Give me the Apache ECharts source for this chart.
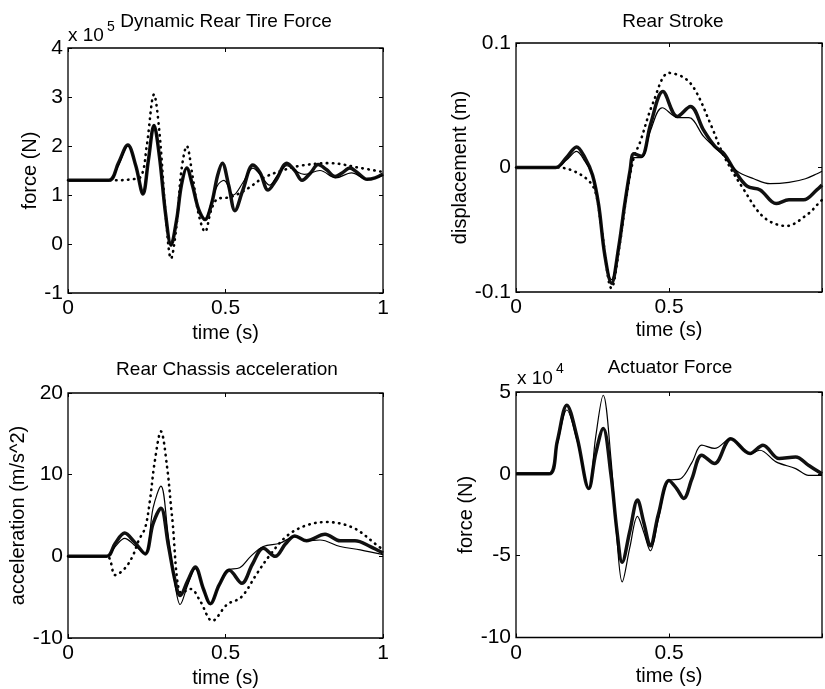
<!DOCTYPE html>
<html>
<head>
<meta charset="utf-8">
<script src="https://cdn.jsdelivr.net/npm/echarts@6/dist/echarts.min.js"></script>
<style>
html,body{margin:0;padding:0;background:#fff;}
#chart{width:825px;height:689px;}
</style>
</head>
<body>
<div id="chart"></div>
<script>
// ---------------- DATA ----------------
// time axis ticks (s)
const timeTicks = [0, 0.5, 1];

// Dynamic Rear Tire Force (x 10^5 N)  [t, value]
const tireTicks = [-1, 0, 1, 2, 3, 4];
const tireThin = [[0,1.3],[0.13,1.3],[0.16,1.6],[0.19,2.0],[0.215,1.6],[0.238,1.02],[0.255,1.7],[0.273,2.42],[0.29,1.8],[0.31,0.6],[0.327,-0.04],[0.345,0.5],[0.36,1.2],[0.377,1.55],[0.395,1.2],[0.415,0.7],[0.435,0.5],[0.455,0.85],[0.475,1.2],[0.495,1.3],[0.525,1.0],[0.555,1.25],[0.587,1.55],[0.612,1.4],[0.64,1.2],[0.665,1.4],[0.695,1.6],[0.72,1.5],[0.75,1.42],[0.8,1.5],[0.85,1.35],[0.9,1.45],[0.95,1.32],[1.0,1.4]];
const tireThick = [[0,1.3],[0.13,1.3],[0.16,1.65],[0.19,2.02],[0.215,1.6],[0.238,1.02],[0.255,1.7],[0.273,2.42],[0.29,1.8],[0.31,0.6],[0.327,-0.02],[0.345,0.5],[0.36,1.2],[0.377,1.55],[0.395,1.2],[0.415,0.7],[0.435,0.5],[0.455,0.8],[0.475,1.4],[0.49,1.65],[0.51,1.2],[0.53,0.68],[0.555,1.1],[0.587,1.61],[0.61,1.45],[0.635,1.1],[0.66,1.3],[0.695,1.65],[0.72,1.5],[0.743,1.3],[0.77,1.45],[0.794,1.62],[0.82,1.52],[0.848,1.38],[0.87,1.45],[0.895,1.55],[0.92,1.45],[0.949,1.32],[0.975,1.35],[1.0,1.43]];
const tireDotted = [[0,1.3],[0.15,1.3],[0.2,1.32],[0.232,1.38],[0.25,2.0],[0.273,3.05],[0.29,2.3],[0.31,0.6],[0.327,-0.3],[0.345,0.4],[0.36,1.5],[0.377,2.0],[0.395,1.4],[0.415,0.6],[0.435,0.25],[0.455,0.7],[0.475,0.92],[0.51,0.95],[0.54,1.02],[0.575,1.15],[0.62,1.35],[0.68,1.5],[0.74,1.6],[0.83,1.65],[0.93,1.55],[1.0,1.47]];

// Rear Stroke (m)
const strokeTicks = [-0.1, 0, 0.1];
const strokeThin = [[0,0],[0.13,0],[0.165,0.006],[0.198,0.013],[0.225,0.005],[0.25,-0.006],[0.27,-0.03],[0.29,-0.07],[0.312,-0.09],[0.335,-0.065],[0.355,-0.03],[0.373,-0.002],[0.385,0.008],[0.41,0.008],[0.44,0.03],[0.478,0.048],[0.53,0.04],[0.565,0.04],[0.613,0.025],[0.65,0.016],[0.68,0.009],[0.723,-0.003],[0.777,-0.009],[0.83,-0.013],[0.892,-0.012],[0.946,-0.009],[0.984,-0.005],[1.0,-0.003]];
const strokeThick = [[0,0],[0.13,0],[0.165,0.008],[0.198,0.0165],[0.225,0.008],[0.25,-0.006],[0.27,-0.03],[0.29,-0.07],[0.312,-0.093],[0.335,-0.065],[0.355,-0.03],[0.373,-0.002],[0.385,0.011],[0.41,0.009],[0.44,0.035],[0.48,0.061],[0.527,0.041],[0.57,0.049],[0.613,0.03],[0.65,0.017],[0.68,0.011],[0.713,-0.002],[0.755,-0.015],[0.798,-0.018],[0.85,-0.029],[0.892,-0.026],[0.94,-0.026],[0.983,-0.018],[1.0,-0.014]];
const strokeDotted = [[0,0],[0.13,0],[0.18,-0.002],[0.235,-0.01],[0.26,-0.02],[0.28,-0.05],[0.312,-0.097],[0.34,-0.06],[0.36,-0.025],[0.385,0.008],[0.405,0.02],[0.448,0.052],[0.5,0.076],[0.55,0.072],[0.586,0.062],[0.639,0.033],[0.68,0.009],[0.745,-0.018],[0.81,-0.04],[0.883,-0.047],[0.956,-0.037],[0.984,-0.03],[1.0,-0.026]];

// Rear Chassis acceleration (m/s^2)
const accTicks = [-10, 0, 10, 20];
const accThin = [[0,0],[0.123,0],[0.15,1.2],[0.18,2.2],[0.21,1.4],[0.245,0.3],[0.27,5.9],[0.295,8.6],[0.318,2.6],[0.34,-3.5],[0.356,-5.9],[0.38,-3.5],[0.404,-1.5],[0.43,-4.0],[0.45,-5.9],[0.475,-4.0],[0.505,-1.7],[0.545,-1.4],[0.58,0.0],[0.62,1.2],[0.672,1.6],[0.72,2.4],[0.76,1.9],[0.8,2.0],[0.864,1.2],[0.928,0.8],[1.0,0.2]];
const accThick = [[0,0],[0.123,0],[0.15,1.6],[0.18,2.85],[0.21,1.8],[0.245,0.3],[0.27,4.0],[0.295,5.9],[0.318,1.5],[0.34,-3.0],[0.356,-4.8],[0.38,-3.0],[0.404,-1.3],[0.43,-4.0],[0.452,-5.8],[0.48,-3.5],[0.512,-1.7],[0.552,-3.3],[0.585,-1.0],[0.62,1.0],[0.658,0.0],[0.69,1.5],[0.72,2.5],[0.757,1.9],[0.816,2.7],[0.864,1.9],[0.911,1.9],[0.96,1.2],[1.0,0.4]];
const accDotted = [[0,0],[0.123,0],[0.15,-2.3],[0.18,-1.5],[0.205,0],[0.225,2.0],[0.245,3.5],[0.26,6.8],[0.275,11.5],[0.295,15.3],[0.315,10.8],[0.33,5.0],[0.36,-4.5],[0.39,-4.0],[0.42,-5.5],[0.458,-7.9],[0.505,-5.9],[0.55,-5.0],[0.6,-2.1],[0.64,0.1],[0.695,2.5],[0.757,3.8],[0.82,4.2],[0.905,3.5],[0.98,1.4],[1.0,0.8]];

// Actuator Force (x 10^4 N)
const actTicks = [-10, -5, 0, 5];
const actThin = [[0,0],[0.108,0],[0.135,1.8],[0.166,3.9],[0.2,2.0],[0.238,-0.9],[0.26,2.2],[0.285,4.8],[0.31,1.0],[0.33,-4.0],[0.347,-6.6],[0.372,-4.5],[0.397,-2.6],[0.418,-3.6],[0.439,-4.7],[0.465,-2.8],[0.5,-0.4],[0.538,-0.3],[0.575,0.7],[0.607,1.75],[0.649,1.55],[0.702,2.15],[0.765,1.24],[0.797,1.44],[0.85,0.73],[0.914,0.32],[0.956,-0.09],[1.0,-0.1]];
const actThick = [[0,0],[0.108,0],[0.135,2.0],[0.166,4.19],[0.2,2.2],[0.238,-0.9],[0.26,1.2],[0.285,2.77],[0.31,0.0],[0.33,-3.5],[0.347,-5.4],[0.372,-3.5],[0.397,-1.6],[0.418,-3.0],[0.439,-4.4],[0.465,-2.5],[0.5,-0.4],[0.525,-0.9],[0.548,-1.5],[0.575,-0.3],[0.607,1.14],[0.649,0.63],[0.702,2.15],[0.765,1.24],[0.807,1.75],[0.86,0.93],[0.914,1.03],[0.956,0.52],[1.0,0.0]];

// ---------------- CHART ----------------
const FONT = "'Liberation Sans', Arial, Helvetica, sans-serif";
const chart = echarts.init(document.getElementById('chart'), null, {renderer: 'canvas'});

const panels = [
  {grid:{left:68, top:48, width:315, height:245}, ticks:tireTicks, yName:'force (N)', yGap:26, xGap:30, hideOne:false,
   series:[tireDotted, tireThick, tireThin]},
  {grid:{left:516, top:43, width:314.6, height:249}, ticks:strokeTicks, yName:'displacement (m)', yGap:42, xGap:28, hideOne:true,
   series:[strokeDotted, strokeThick, strokeThin]},
  {grid:{left:68, top:393, width:315, height:245}, ticks:accTicks, yName:'acceleration (m/s^2)', yGap:37, xGap:30, hideOne:false,
   series:[accDotted, accThick, accThin]},
  {grid:{left:516, top:392, width:314.6, height:245.5}, ticks:actTicks, yName:'force (N)', yGap:38, xGap:29, hideOne:true,
   series:[null, actThick, actThin]}
];

const grids = [], xAxes = [], yAxes = [], series = [];
const styles = [
  {type:[0.5,5.5], width:2.6, cap:'round', color:'#000'},
  {type:'solid', width:3.5, color:'#111'},
  {type:'solid', width:1.2, color:'#000'}
];
const tickStyle = {show:true, inside:true, length:4, lineStyle:{color:'#000', width:1}};
const noLine = {show:false, onZero:false};

panels.forEach((p, i) => {
  grids.push(Object.assign({show:true, borderColor:'#000', borderWidth:1.3, backgroundColor:'#fff'}, p.grid));
  const ymin = p.ticks[0], ymax = p.ticks[p.ticks.length-1];
  const yint = p.ticks[1] - p.ticks[0];
  xAxes.push({type:'value', gridIndex:i, position:'bottom', min:timeTicks[0], max:timeTicks[timeTicks.length-1], interval:timeTicks[1]-timeTicks[0],
    axisLine:noLine, axisTick:tickStyle, splitLine:{show:false},
    axisLabel:{color:'#000', fontFamily:FONT, fontSize:21, margin:5,
      formatter: v => (p.hideOne && v === 1) ? '' : String(v)},
    name:'time (s)', nameLocation:'middle', nameGap:p.xGap,
    nameTextStyle:{color:'#000', fontFamily:FONT, fontSize:20}});
  xAxes.push({type:'value', gridIndex:i, position:'top', min:timeTicks[0], max:timeTicks[timeTicks.length-1], interval:timeTicks[1]-timeTicks[0],
    axisLine:noLine, axisTick:tickStyle, splitLine:{show:false}, axisLabel:{show:false}});
  yAxes.push({type:'value', gridIndex:i, position:'left', min:ymin, max:ymax, interval:yint,
    axisLine:noLine, axisTick:tickStyle, splitLine:{show:false},
    axisLabel:{color:'#000', fontFamily:FONT, fontSize:21, margin:5,
      formatter: v => String(Math.round(v*1000)/1000)},
    name:p.yName, nameLocation:'middle', nameGap:p.yGap, nameRotate:90,
    nameTextStyle:{color:'#000', fontFamily:FONT, fontSize:20}});
  yAxes.push({type:'value', gridIndex:i, position:'right', min:ymin, max:ymax, interval:yint,
    axisLine:noLine, axisTick:tickStyle, splitLine:{show:false}, axisLabel:{show:false}});
  p.series.forEach((d, k) => {
    if (!d) return;
    series.push({type:'line', xAxisIndex:2*i, yAxisIndex:2*i, data:d, showSymbol:false, symbol:'none',
      smooth:0.35, lineStyle:styles[k], silent:true, animation:false, clip:true, z:2+k});
  });
});

function txt(x, y, text, size, align) {
  return {type:'text', x:x, y:y, silent:true, z:100,
    style:{text:text, fill:'#000', font: size + 'px ' + FONT, align:align || 'center', verticalAlign:'middle'}};
}

chart.setOption({
  animation:false,
  backgroundColor:'#fff',
  grid:grids, xAxis:xAxes, yAxis:yAxes, series:series,
  graphic:[
    txt(68, 36, 'x 10', 19, 'left'),
    txt(107, 27, '5', 14, 'left'),
    txt(226, 22, 'Dynamic Rear Tire Force', 19),
    txt(673, 22, 'Rear Stroke', 19),
    txt(227, 370, 'Rear Chassis acceleration', 19),
    txt(517, 379, 'x 10', 19, 'left'),
    txt(556, 369, '4', 14, 'left'),
    txt(670, 368, 'Actuator Force', 19)
  ]
});
</script>
</body>
</html>
